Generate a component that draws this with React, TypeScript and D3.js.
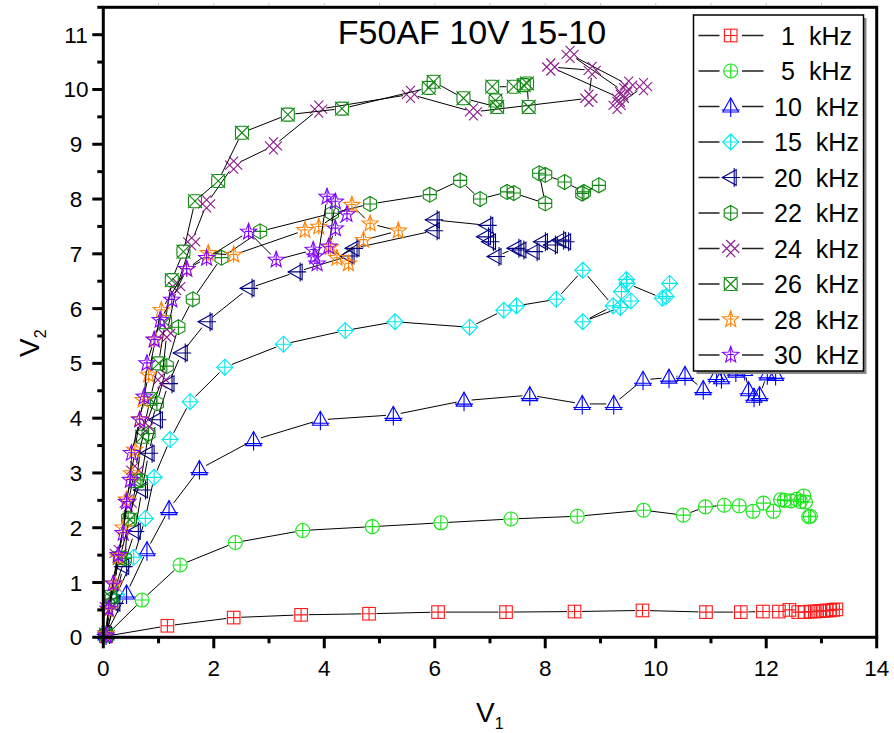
import React from "react";
import * as d3 from "d3";

const W = 894;
const H = 733;

// Axis setup
const xDomain: [number, number] = [0, 14];
const yDomain: [number, number] = [0, 11.5];
const xMajorTicks = [0, 2, 4, 6, 8, 10, 12, 14];
const xMinorTicks = [1, 3, 5, 7, 9, 11, 13];
const yMajorTicks = [0, 1, 2, 3, 4, 5, 6, 7, 8, 9, 10, 11];
const yMinorTicks = [0.5, 1.5, 2.5, 3.5, 4.5, 5.5, 6.5, 7.5, 8.5, 9.5, 10.5, 11.5];

const title = "F50AF 10V 15-10";
const seriesLabels = ["1 kHz", "5 kHz", "10 kHz", "15 kHz", "20 kHz", "22 kHz", "24 kHz", "26 kHz", "28 kHz", "30 kHz"];

// Measured (V1, V2) pairs for each drive frequency
const f1kHz: [number, number][] = [
  [0.05, 0.02], [1.16, 0.21], [2.36, 0.36], [3.58, 0.41], [4.81, 0.43], [6.06, 0.46], [7.29, 0.46],
  [8.53, 0.47], [9.76, 0.49], [10.91, 0.46], [11.54, 0.46], [11.94, 0.47], [12.23, 0.47], [12.42, 0.5],
  [12.58, 0.46], [12.7, 0.46], [12.8, 0.47], [12.88, 0.47], [12.96, 0.48], [13.03, 0.48], [13.09, 0.49],
  [13.15, 0.49], [13.21, 0.5], [13.27, 0.51],
];
const f5kHz: [number, number][] = [
  [0.05, 0.03], [0.7, 0.68], [1.39, 1.32], [2.39, 1.73], [3.61, 1.95], [4.87, 2.02], [6.11, 2.09],
  [7.38, 2.16], [8.58, 2.21], [9.78, 2.32], [10.5, 2.23], [10.9, 2.38], [11.24, 2.41], [11.51, 2.4],
  [11.76, 2.3], [11.95, 2.45], [12.13, 2.3], [12.26, 2.51], [12.33, 2.5], [12.45, 2.49], [12.55, 2.52],
  [12.62, 2.48], [12.68, 2.58], [12.71, 2.47], [12.77, 2.2], [12.8, 2.21],
];
const f10kHz: [number, number][] = [
  [0.05, 0.05], [0.42, 0.8], [0.79, 1.59], [1.19, 2.34], [1.74, 3.07], [2.72, 3.6], [3.93, 3.97],
  [5.25, 4.06], [6.53, 4.32], [7.72, 4.42], [8.67, 4.26], [9.24, 4.26], [9.77, 4.7], [10.24, 4.74],
  [10.53, 4.79], [10.86, 4.53], [11.1, 4.77], [11.19, 4.73], [11.45, 4.85], [11.61, 4.88], [11.68, 4.51],
  [11.78, 4.39], [11.88, 4.42], [12.02, 4.8], [12.17, 4.79],
];
const f15kHz: [number, number][] = [
  [0.05, 0.05], [0.24, 0.78], [0.55, 1.46], [0.76, 2.17], [0.92, 2.92], [1.21, 3.61], [1.57, 4.3],
  [2.2, 4.93], [3.26, 5.35], [4.38, 5.6], [5.28, 5.76], [6.63, 5.66], [7.25, 5.97], [7.48, 6.05],
  [8.2, 6.17], [8.68, 6.7], [9.23, 6.05], [8.68, 5.76], [9.36, 6.02], [9.55, 6.14], [9.38, 6.31],
  [9.47, 6.53], [9.48, 6.46], [10.12, 6.19], [10.19, 6.22], [10.25, 6.46],
];
const f20kHz: [number, number][] = [
  [0.05, 0.05], [0.2, 0.62], [0.36, 1.29], [0.57, 1.93], [0.7, 2.69], [0.82, 3.36], [0.97, 3.97],
  [1.18, 4.63], [1.42, 5.19], [1.87, 5.76], [2.63, 6.37], [3.5, 6.67], [4.44, 6.96], [4.53, 7.1],
  [5.98, 7.42], [5.98, 7.62], [6.95, 7.52], [6.91, 7.31], [7.0, 7.22], [7.1, 6.95], [7.46, 7.1],
  [7.55, 7.07], [7.79, 7.04], [7.94, 7.22], [8.12, 7.16], [8.27, 7.25], [8.36, 7.22],
];
const f22kHz: [number, number][] = [
  [0.05, 0.05], [0.15, 0.7], [0.39, 1.44], [0.45, 2.17], [0.68, 2.87], [0.82, 3.72], [0.97, 4.27],
  [1.15, 4.95], [1.36, 5.66], [1.62, 6.17], [2.14, 6.93], [2.84, 7.41], [4.14, 7.74], [4.83, 7.91],
  [5.91, 8.08], [6.46, 8.34], [6.82, 8.0], [7.31, 8.13], [7.43, 8.11], [8.0, 7.92], [7.89, 8.47],
  [8.0, 8.44], [8.35, 8.31], [8.7, 8.13], [8.97, 8.25], [8.67, 8.1],
];
const f24kHz: [number, number][] = [
  [0.05, 0.05], [0.09, 0.56], [0.27, 1.53], [0.45, 2.45], [0.57, 3.05], [0.76, 3.84], [1.06, 4.7],
  [1.15, 5.55], [1.33, 6.4], [1.6, 7.22], [1.87, 7.91], [2.36, 8.62], [3.08, 8.97], [3.9, 9.64],
  [5.56, 9.91], [6.7, 9.59], [8.79, 9.84], [8.85, 10.35], [8.1, 10.41], [9.36, 9.84], [9.42, 9.96],
  [8.45, 10.64], [9.51, 10.08], [9.78, 10.05], [9.3, 9.71],
];
const f26kHz: [number, number][] = [
  [0.05, 0.05], [0.12, 0.74], [0.3, 1.45], [0.48, 2.15], [0.6, 2.85], [0.7, 3.66], [0.85, 4.35],
  [1.0, 5.0], [1.12, 5.75], [1.24, 6.52], [1.45, 7.04], [1.66, 7.96], [2.08, 8.33], [2.51, 9.21],
  [3.34, 9.54], [4.32, 9.65], [5.89, 10.03], [5.98, 10.14], [6.52, 9.84], [7.13, 9.68], [7.1, 9.8],
  [7.04, 10.05], [7.43, 10.05], [7.61, 10.08], [7.67, 10.11], [7.7, 9.68],
];
const f28kHz: [number, number][] = [
  [0.05, 0.05], [0.09, 0.5], [0.21, 0.98], [0.27, 1.47], [0.36, 2.0], [0.42, 2.51], [0.51, 2.99],
  [0.57, 3.42], [0.66, 3.98], [0.72, 4.33], [0.82, 4.79], [0.94, 5.43], [1.05, 5.97], [1.51, 6.72],
  [1.9, 7.01], [2.36, 6.98], [3.65, 7.43], [3.9, 7.49], [4.5, 7.89], [4.83, 7.55], [5.34, 7.42],
  [4.71, 7.25], [4.23, 6.92], [4.44, 6.82], [4.11, 7.12],
];
const f30kHz: [number, number][] = [
  [0.05, 0.03], [0.09, 0.52], [0.18, 0.98], [0.27, 1.5], [0.36, 1.9], [0.42, 2.47], [0.49, 2.87],
  [0.51, 3.36], [0.66, 3.97], [0.74, 4.39], [0.79, 5.0], [0.92, 5.43], [1.03, 5.79], [1.24, 6.16],
  [1.51, 6.72], [1.87, 6.92], [2.63, 7.4], [3.13, 6.89], [3.8, 7.07], [3.83, 6.95], [3.87, 6.82],
  [4.05, 8.04], [4.2, 7.95], [4.08, 7.13], [4.2, 7.46], [4.41, 7.72],
];

type MarkerKind =
  | "square" | "circle" | "triUp" | "diamond" | "triLeft"
  | "hexagon" | "lattice" | "boxX" | "star";

const seriesData = [f1kHz, f5kHz, f10kHz, f15kHz, f20kHz, f22kHz, f24kHz, f26kHz, f28kHz, f30kHz];
const seriesColors = ["#ff1a1a", "#19e619", "#0000ff", "#00e8f0", "#000080", "#118811", "#8c1a8c", "#118811", "#ff8000", "#8000ff"];
const seriesMarkers: MarkerKind[] = ["square", "circle", "triUp", "diamond", "triLeft", "hexagon", "lattice", "boxX", "star", "star"];

const FONT = "'Liberation Sans', Arial, Helvetica, sans-serif";

const xScale = d3.scaleLinear().domain(xDomain).range([103.3, 876.7]);
const yScale = d3.scaleLinear().domain(yDomain).range([637.3, 7.3]);

const starPoints = (ro: number, ri: number) =>
  d3.range(10).map((i) => {
    const a = -Math.PI / 2 + (i * Math.PI) / 5;
    const r = i % 2 === 0 ? ro : ri;
    return [r * Math.cos(a), r * Math.sin(a)].join(",");
  }).join(" ");

const hexPoints = (r: number) =>
  d3.range(6).map((i) => {
    const a = -Math.PI / 2 + (i * Math.PI) / 3;
    return [r * Math.cos(a), r * Math.sin(a)].join(",");
  }).join(" ");

function Marker({ kind, color, cx, cy }: { kind: MarkerKind; color: string; cx: number; cy: number }) {
  const st = { fill: "none", stroke: color, strokeWidth: 1.1 };
  let body: React.ReactNode = null;
  switch (kind) {
    case "square":
      body = (
        <>
          <rect x={-6.3} y={-6.3} width={12.6} height={12.6} {...st} />
          <path d="M0,-6.3V6.3M-6.3,0H6.3" {...st} />
        </>
      );
      break;
    case "circle":
      body = (
        <>
          <circle r={7} {...st} />
          <path d="M0,-7V7M-7,0H7" {...st} />
        </>
      );
      break;
    case "triUp":
      body = (
        <>
          <polygon points="0,-8.5 -7.8,5.5 7.8,5.5" {...st} />
          <path d="M0,-8.5V10.5M-9,3.5H9" {...st} />
        </>
      );
      break;
    case "diamond":
      body = (
        <>
          <polygon points="0,-8 8,0 0,8 -8,0" {...st} />
          <path d="M0,-8V8M-8,0H8" {...st} />
        </>
      );
      break;
    case "triLeft":
      body = (
        <>
          <polygon points="-8.5,0 5.5,-7.8 5.5,7.8" {...st} />
          <path d="M3.5,-9.5V9.5M-8.5,0H9.5" {...st} />
        </>
      );
      break;
    case "hexagon":
      body = (
        <>
          <polygon points={hexPoints(7.5)} {...st} />
          <path d="M0,-7.5V7.5M-6.5,0H6.5" {...st} />
        </>
      );
      break;
    case "lattice":
      // two crossing pairs of diagonal strokes, forming a small diamond lattice
      body = (
        <path
          d="M-8.5,-4.5L4.5,8.5M-4.5,-8.5L8.5,4.5M-8.5,4.5L4.5,-8.5M-4.5,8.5L8.5,-4.5"
          {...st}
        />
      );
      break;
    case "boxX":
      body = (
        <>
          <rect x={-6.5} y={-6.5} width={13} height={13} rx={3.5} {...st} />
          <path d="M-7,-7L7,7M-7,7L7,-7" {...st} />
        </>
      );
      break;
    case "star":
      body = (
        <>
          <polygon points={starPoints(8.5, 3.6)} {...st} />
          <path d="M0,-8.5V7.5M-3.5,-0.5H3.5" {...st} />
        </>
      );
      break;
  }
  return <g transform={`translate(${cx},${cy})`}>{body}</g>;
}

// Line segments that stop short of each symbol, leaving a small gap
function gappedSegments(pts: [number, number][], gap: number) {
  const segs: string[] = [];
  for (let i = 1; i < pts.length; i++) {
    const [x1, y1] = pts[i - 1];
    const [x2, y2] = pts[i];
    const dx = x2 - x1;
    const dy = y2 - y1;
    const d = Math.hypot(dx, dy);
    if (d <= 2 * gap + 0.5) continue;
    const ux = dx / d;
    const uy = dy / d;
    segs.push(
      `M${x1 + ux * gap},${y1 + uy * gap}L${x2 - ux * gap},${y2 - uy * gap}`
    );
  }
  return segs.join("");
}

export default function App() {
  const x0 = xScale(0);
  const x1 = xScale(14);
  const y0 = yScale(0);
  const yTop = yScale(11.5);

  // Legend geometry
  const lgX = 693.5;
  const lgY = 15;
  const lgW = 170;
  const lgH = 356;
  const rowY0 = 35.5;
  const rowStep = 35.5;

  return (
    <svg
      width={W}
      height={H}
      viewBox={`0 0 ${W} ${H}`}
      style={{ position: "absolute", left: 0, top: 0, background: "#fff" }}
      fontFamily={FONT}
    >
      <rect x={0} y={0} width={W} height={H} fill="#fff" />

      {/* series: connecting lines then symbols */}
      {seriesData.map((data, si) => {
        const pts = data.map(([a, b]) => [xScale(a), yScale(b)] as [number, number]);
        return (
          <g key={si}>
            <path d={gappedSegments(pts, 7.5)} fill="none" stroke="#000" strokeWidth={1} />
            {pts.map(([px, py], i) => (
              <Marker key={i} kind={seriesMarkers[si]} color={seriesColors[si]} cx={px} cy={py} />
            ))}
          </g>
        );
      })}

      {/* frame */}
      <rect x={x0} y={yTop} width={x1 - x0} height={y0 - yTop} fill="none" stroke="#000" strokeWidth={3} />

      {/* top ticks */}
      {d3.range(1, 14).map((v) => (
        <line key={`tt${v}`} x1={xScale(v)} x2={xScale(v)} y1={yTop - 1.5} y2={yTop - 4} stroke="#bbb" strokeWidth={1} />
      ))}

      {/* x axis ticks and labels */}
      {xMajorTicks.map((v) => (
        <g key={`xm${v}`}>
          <line x1={xScale(v)} x2={xScale(v)} y1={y0} y2={y0 + 11} stroke="#000" strokeWidth={3} />
          <text x={xScale(v)} y={676} textAnchor="middle" fontSize={22.5} fill="#000">
            {v}
          </text>
        </g>
      ))}
      {xMinorTicks.map((v) => (
        <line key={`xn${v}`} x1={xScale(v)} x2={xScale(v)} y1={y0} y2={y0 + 6} stroke="#000" strokeWidth={3} />
      ))}

      {/* y axis ticks and labels */}
      {yMajorTicks.map((v) => (
        <g key={`ym${v}`}>
          <line x1={x0} x2={x0 - 11} y1={yScale(v)} y2={yScale(v)} stroke="#000" strokeWidth={3} />
          <text x={76} y={yScale(v) + 8} textAnchor="middle" fontSize={22.5} fill="#000">
            {v}
          </text>
        </g>
      ))}
      {yMinorTicks.map((v) => (
        <line key={`yn${v}`} x1={x0} x2={x0 - 6} y1={yScale(v)} y2={yScale(v)} stroke="#000" strokeWidth={3} />
      ))}

      {/* axis titles */}
      <text x={476} y={721.5} fontSize={28} fill="#000">
        V<tspan fontSize={16} dy={7}>1</tspan>
      </text>
      <text transform="translate(39,357) rotate(-90)" fontSize={28} fill="#000">
        V<tspan fontSize={16} dy={7}>2</tspan>
      </text>

      {/* title */}
      <text x={472} y={43.5} textAnchor="middle" fontSize={34} fill="#000">
        {title}
      </text>

      {/* legend */}
      <rect x={lgX + 3} y={lgY + 3} width={lgW} height={lgH} fill="#888" />
      <rect x={lgX} y={lgY} width={lgW} height={lgH} fill="#fff" stroke="#000" strokeWidth={1.5} />
      {seriesLabels.map((lab, i) => {
        const cy = rowY0 + i * rowStep;
        return (
          <g key={lab}>
            <path d={`M698.5,${cy}H719.5M742,${cy}H763.5`} stroke="#222" strokeWidth={1.3} />
            <Marker kind={seriesMarkers[i]} color={seriesColors[i]} cx={730.7} cy={cy} />
            <text x={816.5} y={cy + 9} textAnchor="middle" fontSize={25} wordSpacing={7} fill="#000">
              {lab}
            </text>
          </g>
        );
      })}
    </svg>
  );
}
